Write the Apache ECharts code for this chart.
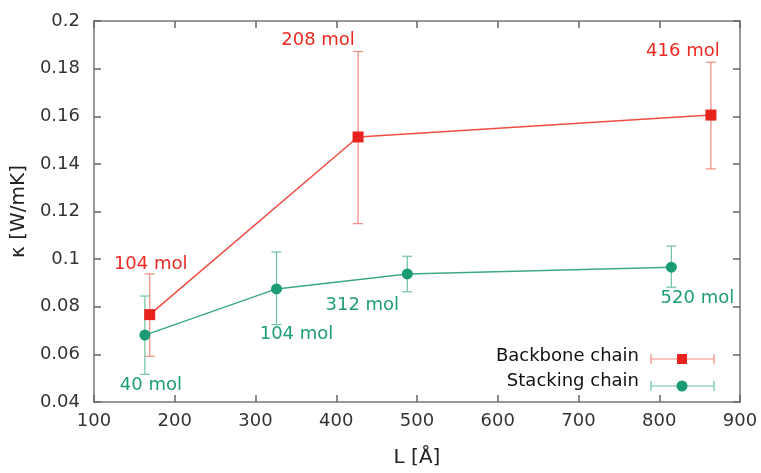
<!DOCTYPE html>
<html>
<head>
<meta charset="utf-8">
<script src="https://cdn.jsdelivr.net/npm/echarts@6/dist/echarts.min.js"></script>
<style>html,body{margin:0;padding:0;background:#fff}#c{width:761px;height:473px}</style>
</head>
<body>
<div id="c"></div>
<script>
// ---- data ----
var backboneL   = [169, 427, 864];
var backboneK   = [0.0767, 0.1513, 0.1605];
var backboneLo  = [0.0592, 0.1149, 0.1379];
var backboneHi  = [0.0938, 0.1872, 0.1827];
var backboneMol = ['104 mol', '208 mol', '416 mol'];

var stackingL   = [163, 326, 488, 815];
var stackingK   = [0.0681, 0.0875, 0.0938, 0.0966];
var stackingLo  = [0.0516, 0.0725, 0.0863, 0.0882];
var stackingHi  = [0.0845, 0.1030, 0.1012, 0.1055];
var stackingMol = ['40 mol', '104 mol', '312 mol', '520 mol'];

var xTicks = [100, 200, 300, 400, 500, 600, 700, 800, 900];
var yTicks = [0.04, 0.06, 0.08, 0.1, 0.12, 0.14, 0.16, 0.18, 0.2];

// ---- styles ----
var RED_MARK = '#e8231d', RED_LINE = '#f04e43', RED_ERR = '#f38a7e', RED_TXT = '#ec2a22';
var GRN_MARK = '#1a9b73', GRN_LINE = '#3aa986', GRN_ERR = '#6fc3a5', GRN_TXT = '#1f9d78';
var FONT = 'DejaVu Sans';
var backboneOffsets = [[1, -50], [-40, -97], [-28, -64]];
var stackingOffsets = [[6, 50], [20, 45], [-45, 31], [26, 31]];

function pts(xs, ys, labels, offs, color) {
  return xs.map(function (x, i) {
    return { value: [x, ys[i]], label: { formatter: labels[i], offset: offs[i], color: color } };
  });
}
function errs(xs, lo, hi) {
  return xs.map(function (x, i) { return [x, lo[i], hi[i]]; });
}
function errRender(color) {
  return function (params, api) {
    var x = api.value(0);
    var a = api.coord([x, api.value(1)]);
    var b = api.coord([x, api.value(2)]);
    var w = 5;
    var st = { stroke: color, lineWidth: 1.2 };
    return { type: 'group', children: [
      { type: 'line', shape: { x1: a[0], y1: a[1], x2: b[0], y2: b[1] }, style: st },
      { type: 'line', shape: { x1: a[0] - w, y1: a[1], x2: a[0] + w, y2: a[1] }, style: st },
      { type: 'line', shape: { x1: b[0] - w, y1: b[1], x2: b[0] + w, y2: b[1] }, style: st }
    ]};
  };
}

var axisCommon = {
  axisLine: { show: true, lineStyle: { color: '#777', width: 1.5 } },
  axisTick: { show: true, inside: true, length: 7, lineStyle: { color: '#666', width: 1.5 } },
  splitLine: { show: false }
};

var chart = echarts.init(document.getElementById('c'), null, { renderer: 'canvas' });
chart.setOption({
  animation: false,
  backgroundColor: '#fff',
  grid: { left: 94, right: 21, top: 21, bottom: 63, containLabel: false },
  xAxis: [
    Object.assign({
      type: 'value', min: xTicks[0], max: xTicks[xTicks.length - 1], interval: 100, position: 'bottom',
      name: 'L [Å]', nameLocation: 'middle', nameGap: 46,
      nameTextStyle: { fontFamily: FONT, fontSize: 20, color: '#222' },
      axisLabel: { fontFamily: FONT, fontSize: 18, color: '#333', margin: 10 }
    }, axisCommon),
    Object.assign({
      type: 'value', min: xTicks[0], max: xTicks[xTicks.length - 1], interval: 100, position: 'top',
      axisLabel: { show: false }
    }, axisCommon)
  ],
  yAxis: [
    Object.assign({
      type: 'value', min: yTicks[0], max: yTicks[yTicks.length - 1], interval: 0.02, position: 'left',
      name: 'κ [W/mK]', nameLocation: 'middle', nameGap: 48, nameRotate: 90,
      nameTextStyle: { fontFamily: FONT, fontSize: 20, color: '#222' },
      axisLabel: { fontFamily: FONT, fontSize: 18, color: '#333', margin: 14,
        formatter: function (v) { return String(+v.toFixed(2)); } }
    }, axisCommon),
    Object.assign({
      type: 'value', min: yTicks[0], max: yTicks[yTicks.length - 1], interval: 0.02, position: 'right',
      axisLabel: { show: false }
    }, axisCommon)
  ],
  series: [
    { type: 'custom', name: 'bbErr', renderItem: errRender(RED_ERR), data: errs(backboneL, backboneLo, backboneHi), z: 2, silent: true },
    { type: 'custom', name: 'stErr', renderItem: errRender(GRN_ERR), data: errs(stackingL, stackingLo, stackingHi), z: 2, silent: true },
    { type: 'line', name: 'Backbone chain', data: pts(backboneL, backboneK, backboneMol, backboneOffsets, RED_TXT),
      symbol: 'rect', symbolSize: 11, showAllSymbol: true,
      lineStyle: { color: RED_LINE, width: 1.5 }, itemStyle: { color: RED_MARK },
      label: { show: true, position: 'inside', fontFamily: FONT, fontSize: 18 }, z: 3 },
    { type: 'line', name: 'Stacking chain', data: pts(stackingL, stackingK, stackingMol, stackingOffsets, GRN_TXT),
      symbol: 'circle', symbolSize: 11, showAllSymbol: true,
      lineStyle: { color: GRN_LINE, width: 1.5 }, itemStyle: { color: GRN_MARK },
      label: { show: true, position: 'inside', fontFamily: FONT, fontSize: 18 }, z: 3 }
  ],
  graphic: [
    { type: 'text', right: 122, top: 347, style: { text: 'Backbone chain', font: '18px "DejaVu Sans"', fill: '#111' } },
    { type: 'text', right: 122, top: 372, style: { text: 'Stacking chain', font: '18px "DejaVu Sans"', fill: '#111' } },
    { type: 'line', shape: { x1: 651, y1: 359, x2: 714, y2: 359 }, style: { stroke: RED_ERR, lineWidth: 1.2 } },
    { type: 'line', shape: { x1: 651, y1: 354, x2: 651, y2: 364 }, style: { stroke: RED_ERR, lineWidth: 1.2 } },
    { type: 'line', shape: { x1: 714, y1: 354, x2: 714, y2: 364 }, style: { stroke: RED_ERR, lineWidth: 1.2 } },
    { type: 'rect', shape: { x: 677, y: 354, width: 10, height: 10 }, style: { fill: RED_MARK } },
    { type: 'line', shape: { x1: 651, y1: 386, x2: 714, y2: 386 }, style: { stroke: GRN_ERR, lineWidth: 1.2 } },
    { type: 'line', shape: { x1: 651, y1: 381, x2: 651, y2: 391 }, style: { stroke: GRN_ERR, lineWidth: 1.2 } },
    { type: 'line', shape: { x1: 714, y1: 381, x2: 714, y2: 391 }, style: { stroke: GRN_ERR, lineWidth: 1.2 } },
    { type: 'circle', shape: { cx: 682, cy: 386, r: 5.5 }, style: { fill: GRN_MARK } }
  ]
});
</script>
</body>
</html>
